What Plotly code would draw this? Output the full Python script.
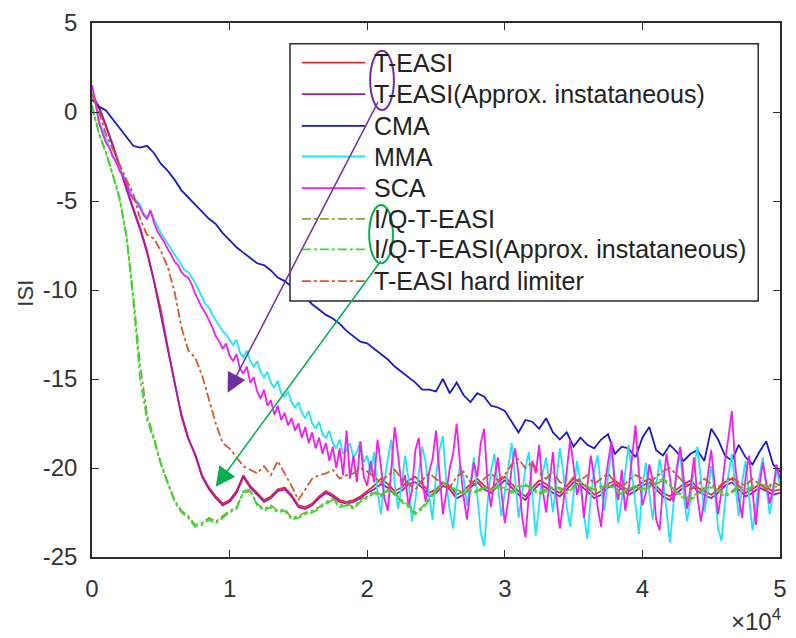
import plotly.graph_objects as go

# ---------------- data ----------------
# sample index (iterations)
x_coarse = list(range(0, 50001, 500))
x_fine = list(range(0, 50001, 250))

t_easi = [
    1.0, 0.2, -0.8, -1.8, -3.0, -4.3, -5.4, -6.5, -7.8, -9.4,
    -11.1, -13.2, -15.1, -17.1, -18.4, -19.2, -20.4, -21.1, -21.6, -22.0,
    -21.8, -21.3, -20.4, -21.0, -21.4, -21.8, -21.6, -21.2, -21.1, -21.5,
    -22.1, -22.2, -22.0, -21.6, -21.3, -21.5, -21.8, -21.9, -21.8, -21.6,
    -21.3,
    -21.0, -20.6, -20.9, -21.3, -21.1, -20.7, -20.5, -20.9, -21.4, -21.2,
    -20.8, -21.0, -21.5, -21.3, -20.9, -20.6, -21.0, -21.2, -20.8, -20.5,
    -20.9, -21.3, -21.6, -21.1, -20.7, -20.9, -21.2, -21.4, -21.0, -20.6,
    -20.8, -21.1, -21.5, -21.3, -20.9, -20.7, -21.0, -21.3, -21.1, -20.8,
    -20.6, -21.0, -21.4, -21.6, -21.2, -20.9, -20.7, -21.1, -21.3, -21.5,
    -21.2, -20.8, -20.6, -21.0, -21.4, -21.2, -20.9, -21.1, -21.3, -21.2,
]

t_easi_approx = [
    1.0, 0.3, -0.7, -1.9, -3.1, -4.4, -5.5, -6.6, -7.9, -9.5,
    -11.3, -13.3, -15.2, -17.0, -18.3, -19.3, -20.5, -21.2, -21.7, -22.1,
    -21.9, -21.4, -20.5, -21.1, -21.5, -21.9, -21.7, -21.3, -21.2, -21.6,
    -22.2, -22.3, -22.1, -21.7, -21.4, -21.6, -21.9, -22.0, -21.9, -21.7,
    -21.4,
    -21.2, -20.9, -21.1, -21.5, -21.3, -20.9, -20.8, -21.1, -21.6, -21.4,
    -21.0, -21.2, -21.7, -21.5, -21.1, -20.8, -21.2, -21.4, -21.0, -20.7,
    -21.1, -21.5, -21.8, -21.3, -20.9, -21.1, -21.4, -21.6, -21.2, -20.8,
    -21.0, -21.3, -21.7, -21.5, -21.1, -20.9, -21.2, -21.5, -21.3, -21.0,
    -20.8, -21.2, -21.6, -21.8, -21.4, -21.1, -20.9, -21.3, -21.5, -21.7,
    -21.4, -21.0, -20.8, -21.2, -21.6, -21.4, -21.1, -21.3, -21.5, -21.4,
]

cma = [
    0.7, 0.3, 0.1, -0.4, -0.9, -1.4, -1.9, -2.0, -1.9, -2.3,
    -2.9, -3.3, -3.8, -4.4, -4.8, -5.2, -5.6, -6.0, -6.3, -6.8,
    -7.2, -7.6, -7.9, -8.2, -8.5, -8.6, -8.9, -9.3, -9.5, -9.8,
    -10.0, -10.4, -10.8, -11.1, -11.4, -11.6, -11.9, -12.3, -12.6, -12.9,
    -13.0, -13.3, -13.6, -13.9, -14.3, -14.6, -14.9, -15.2, -15.6, -15.6,
    -15.7, -15.0, -15.8, -15.2, -15.9, -16.3, -15.8, -16.0, -16.5, -16.6,
    -16.8, -17.4, -18.0, -17.3, -17.4, -17.8, -17.2, -18.0, -18.4, -18.0,
    -18.8, -18.3, -18.7, -18.9, -18.4, -18.1, -19.2, -18.8, -18.9, -19.4,
    -18.3, -17.7, -19.0, -19.3, -18.7, -19.1, -19.6, -19.2, -19.0, -19.6,
    -17.8, -18.4, -19.3, -19.6, -18.7, -19.4, -19.8, -19.1, -18.5, -19.8,
    -20.2,
]

mma = [
    1.2, 0.5, -0.5, -1.0, -1.5, -2.0, -2.4, -2.8, -3.2, -3.5,
    -3.9, -4.4, -4.8, -5.0, -5.2, -5.7, -5.9, -5.6, -6.0, -6.4,
    -6.8, -7.1, -7.4, -7.7, -8.0, -8.3, -8.6, -8.9, -9.0, -9.3,
    -9.6, -10.0, -10.4, -10.8, -11.0, -11.4, -11.7, -12.0, -12.3, -12.5,
    -12.8, -13.1, -12.8, -13.5, -13.8, -13.4, -14.0, -14.3, -14.0, -14.6,
    -14.9, -14.6, -15.2, -15.5, -15.1, -15.8, -16.0, -15.7, -16.3, -16.6,
    -16.3, -16.9, -17.2, -16.8, -17.5, -17.8, -17.4, -18.1, -18.3, -17.9,
    -18.6, -18.9, -18.4, -19.2, -19.0, -18.6, -19.4, -19.1, -18.5, -19.7,
    -19.3,
    -20.3, -19.1, -21.4, -22.6, -20.7, -19.5, -18.4, -20.9, -22.3, -21.0,
    -19.3, -20.6, -23.0, -21.8, -20.2, -18.8, -19.7, -21.5, -22.9, -20.4,
    -19.0, -18.2, -20.8, -22.4, -23.4, -21.2, -19.8, -20.5, -22.1, -20.9,
    -19.4, -21.3, -23.6, -24.4, -21.9, -20.1, -19.2, -21.0, -22.7, -21.4,
    -19.9, -18.6, -20.6, -22.8, -21.5, -20.0, -19.1, -21.7, -23.8, -22.0,
    -20.3, -19.4, -21.1, -22.5, -20.7, -18.9, -20.2, -22.2, -23.3, -21.3,
    -19.6, -20.8, -22.6, -24.0, -21.6, -20.1, -19.3, -21.2, -22.4, -20.5,
    -19.0, -20.9, -23.1, -21.8, -20.3, -18.7, -20.4, -22.0, -23.7, -21.1,
    -19.7, -21.4, -22.9, -21.0, -19.5, -20.6, -22.3, -24.2, -22.1, -20.2,
    -19.1, -21.5, -23.0, -21.7, -20.0, -18.8, -20.7, -22.5, -21.3, -19.9,
    -21.2, -23.4, -24.1, -21.9, -20.4, -19.2, -21.0, -22.7, -20.8, -19.6,
    -21.6, -23.5, -22.2, -20.5, -19.4, -21.1, -22.6, -21.4, -20.1, -21.0,
]

sca = [
    1.5, 0.6, -0.6, -1.1, -1.7, -2.0, -2.5, -2.8, -3.3, -3.6,
    -4.0, -4.6, -4.9, -5.1, -5.4, -5.8, -6.0, -5.5, -6.2, -6.7,
    -7.0, -7.3, -7.7, -8.0, -8.4, -8.6, -9.0, -9.2, -9.3, -9.7,
    -10.2, -10.6, -11.0, -11.3, -11.7, -12.1, -12.6, -12.9, -13.3, -13.0,
    -13.7, -14.0, -13.6, -14.4, -14.7, -14.3, -15.2, -14.9, -15.7, -16.1,
    -15.6, -16.5, -16.2, -17.0, -16.5, -17.3, -16.9, -17.6, -17.2, -17.9,
    -17.5, -18.3, -17.7, -18.6, -18.0, -18.9, -18.3, -19.2, -18.6, -19.6,
    -18.8, -20.0, -18.9, -20.4, -17.9, -20.6, -19.3, -20.8, -18.5, -20.5,
    -21.0,
    -19.6, -20.8, -18.4, -19.9, -21.7, -22.4, -20.1, -17.7, -19.3, -21.0,
    -20.4, -22.1, -21.3, -19.0, -18.3, -20.7, -21.9, -20.2, -19.5, -17.9,
    -20.3, -22.6, -21.4, -20.0, -19.2, -17.5, -19.8, -21.6, -22.9, -21.1,
    -19.7, -20.5, -18.6, -17.8, -20.9, -22.2, -20.6, -19.4, -21.3, -23.1,
    -21.8, -20.0, -18.9, -20.4, -22.7, -23.9, -21.5, -19.6, -20.3, -18.7,
    -21.2, -22.5, -20.8, -19.1, -21.7, -23.4, -22.0, -20.2, -18.4, -19.9,
    -21.5, -20.7, -22.8, -21.0, -19.3, -20.6, -22.2, -23.3, -21.1, -19.7,
    -18.5, -20.9, -21.8, -20.1, -22.4, -21.2, -19.5, -17.6, -20.3, -22.1,
    -21.4, -19.8, -20.7, -22.9, -23.5, -21.0, -19.2, -20.5, -21.9, -20.0,
    -18.8, -20.6, -22.3, -21.1, -19.4, -21.6, -23.0, -21.8, -20.4, -19.0,
    -20.9, -22.6, -21.3, -19.6, -18.3, -16.8, -19.9, -21.7, -22.8, -20.5,
    -19.3, -21.4, -23.2, -21.0, -19.7, -20.8, -22.0, -21.2, -19.8, -20.6,
]

iq_t_easi = [
    0.4, -1.2, -2.2, -3.5, -4.8, -6.9, -10.3, -14.2, -17.0, -18.3,
    -19.7, -20.8, -21.8, -22.4, -22.7, -23.2, -23.1, -22.8, -23.0, -22.7,
    -22.4, -22.2, -21.4, -21.3, -22.0, -22.3, -22.1, -22.4, -22.3, -22.8,
    -22.7, -22.5, -22.4, -22.2, -21.9, -21.7, -22.1, -22.0, -22.2, -21.8,
    -21.6,
    -21.3, -21.5, -21.3, -21.4, -21.8, -22.1, -22.5, -22.2, -21.7, -21.2,
    -20.8, -21.1, -21.2, -21.4, -21.3, -21.3, -21.0, -21.2, -21.1, -21.1,
    -21.3, -21.0, -21.0, -21.1, -21.4, -21.2, -21.1, -21.1, -21.3, -21.0,
    -20.9, -21.1, -21.2, -21.0, -21.0, -21.1, -21.4, -21.1, -21.1, -21.2,
    -21.0, -20.9, -20.7, -21.0, -21.3, -21.6, -21.7, -21.4, -21.1, -21.1,
    -21.2, -21.5, -21.3, -21.0, -21.2, -21.1, -20.9, -21.0, -21.1, -21.0,
]

iq_t_easi_approx = [
    0.3, -1.2, -2.3, -3.5, -4.9, -7.0, -10.6, -15.0, -17.3, -18.4,
    -19.8, -20.9, -21.9, -22.5, -22.8, -23.3, -23.2, -22.9, -23.1, -22.8,
    -22.5, -22.3, -21.3, -21.2, -22.1, -22.4, -22.2, -22.5, -22.4, -22.9,
    -22.8, -22.6, -22.5, -22.3, -22.0, -21.8, -22.2, -22.1, -22.3, -21.9,
    -21.7,
    -21.4, -21.6, -21.2, -21.5, -21.9, -22.2, -22.6, -22.3, -21.8, -21.3,
    -20.9, -21.0, -21.3, -21.5, -21.2, -21.4, -21.1, -21.3, -21.0, -21.2,
    -21.4, -21.1, -20.9, -21.2, -21.5, -21.3, -21.0, -21.2, -21.4, -21.1,
    -20.8, -21.0, -21.3, -21.1, -20.9, -21.2, -21.5, -21.2, -21.0, -21.3,
    -21.1, -20.8, -20.6, -20.9, -21.4, -21.7, -21.8, -21.5, -21.2, -21.0,
    -21.3, -21.6, -21.4, -21.1, -21.3, -21.0, -20.8, -21.1, -21.0, -20.9,
]

hard_limiter = [
    1.0, 0.0, -1.2, -2.1, -2.9, -3.8, -4.6, -6.0, -6.9, -7.1,
    -7.8, -8.7, -10.1, -12.1, -13.4, -13.8, -14.8, -16.2, -17.5, -18.6,
    -18.9, -19.4, -19.9, -20.1, -20.3, -19.9, -20.4, -19.6, -20.3, -21.0,
    -21.8, -21.2, -20.6, -20.4, -20.3, -20.1, -20.6, -20.4, -20.3, -20.0,
    -20.2,
    -20.5, -20.8, -20.4, -20.1, -20.6, -20.9, -21.2, -20.7, -20.3, -20.6,
    -20.9, -21.1, -20.5, -20.2, -20.8, -21.0, -20.6, -20.3, -20.7, -20.4,
    -19.8, -19.5, -20.0, -19.7, -20.3, -20.6, -20.2, -20.8, -21.0, -20.5,
    -20.7, -20.4, -20.9, -20.6, -20.3, -20.8, -21.1, -20.7, -20.4, -20.6,
    -20.9, -20.5, -20.2, -20.0, -20.4, -20.8, -21.2, -21.0, -20.6, -20.9,
    -21.1, -20.7, -20.5, -20.8, -21.0, -20.6, -20.9, -21.2, -20.8, -21.0,
]

x_ticks = [0, 10000, 20000, 30000, 40000, 50000]
x_tick_text = ["0", "1", "2", "3", "4", "5"]
y_ticks = [5, 0, -5, -10, -15, -20, -25]
y_tick_text = ["5", "0", "-5", "-10", "-15", "-20", "-25"]

# name, values, x grid, colour, dash
series = [
    ("T-EASI", t_easi, x_coarse, "#ee2a2a", "solid"),
    ("T-EASI(Approx. instataneous)", t_easi_approx, x_coarse, "#a01cb0", "solid"),
    ("CMA", cma, x_coarse, "#1a1acd", "solid"),
    ("MMA", mma, x_fine, "#1ee6f5", "solid"),
    ("SCA", sca, x_fine, "#f51cf0", "solid"),
    ("I/Q-T-EASI", iq_t_easi, x_coarse, "#8aa83a", "dashdot"),
    ("I/Q-T-EASI(Approx. instataneous)", iq_t_easi_approx, x_coarse, "#2ee02e", "dashdot"),
    ("T-EASI hard limiter", hard_limiter, x_coarse, "#d9582a", "dashdot"),
]

for name, ys, xs, _, _ in series:
    assert len(ys) == len(xs), (name, len(ys), len(xs))

# ---------------- layout geometry (pixels) ----------------
W, H = 796, 638
L, R, T, B = 92, 787, 17, 557
FONT = "Liberation Sans, Arial, sans-serif"
AXIS_COLOR = "#2b2b2b"


def px(xp):
    return (xp - L) / (R - L)


def py(yp):
    return (B - yp) / (B - T)


fig = go.Figure()
for name, ys, xs, color, dash in series:
    fig.add_trace(go.Scatter(
        x=xs, y=ys, mode="lines", name=name, showlegend=False,
        line=dict(color=color, width=1.8, dash=dash),
    ))

shapes = []
annotations = []

# legend box
shapes.append(dict(type="rect", xref="paper", yref="paper",
                   x0=px(292), x1=px(765), y0=py(298), y1=py(38),
                   line=dict(color=AXIS_COLOR, width=1.5), fillcolor="white",
                   layer="above"))
row_y = [57, 89, 121, 152, 184, 215, 246, 278]
for (name, _, _, color, dash), ry in zip(series, row_y):
    shapes.append(dict(type="line", xref="paper", yref="paper",
                       x0=px(304), x1=px(368), y0=py(ry), y1=py(ry),
                       line=dict(color=color, width=1.8, dash=dash),
                       layer="above"))
    annotations.append(dict(text=name, xref="paper", yref="paper",
                            x=px(375), y=py(ry), xanchor="left", yanchor="middle",
                            showarrow=False,
                            font=dict(family=FONT, size=25, color="#222222")))

# highlight ellipses around the legend entries
PURPLE = "#7030a0"
GREEN = "#00b050"
shapes.append(dict(type="circle", xref="paper", yref="paper",
                   x0=px(373), x1=px(397), y0=py(105), y1=py(45),
                   line=dict(color=PURPLE, width=2), layer="above"))
shapes.append(dict(type="circle", xref="paper", yref="paper",
                   x0=px(372), x1=px(396), y0=py(260), y1=py(201),
                   line=dict(color=GREEN, width=2), layer="above"))

# arrows from ellipses to the curves
annotations.append(dict(text="", xref="paper", yref="paper",
                        x=px(229), y=py(391), ax=380 - 229, ay=99 - 391,
                        showarrow=True, arrowhead=2, arrowsize=2.6,
                        arrowwidth=1.5, arrowcolor=PURPLE))
annotations.append(dict(text="", xref="paper", yref="paper",
                        x=px(217), y=py(486), ax=383 - 217, ay=259 - 486,
                        showarrow=True, arrowhead=2, arrowsize=2.6,
                        arrowwidth=1.5, arrowcolor=GREEN))

# exponent label for the x axis
annotations.append(dict(text="\u00d710<sup>4</sup>", xref="paper", yref="paper",
                        x=1.005, y=py(621), xanchor="right", yanchor="middle",
                        showarrow=False,
                        font=dict(family=FONT, size=24, color="#333333")))

# y-axis title
annotations.append(dict(text="ISI", xref="paper", yref="paper",
                        x=px(25), y=py(290), xanchor="center", yanchor="middle",
                        textangle=-90, showarrow=False,
                        font=dict(family=FONT, size=22, color="#333333")))

axis_common = dict(
    showgrid=False, zeroline=False, showline=True, linecolor=AXIS_COLOR,
    linewidth=1.5, mirror="ticks", ticks="inside", ticklen=7,
    tickcolor=AXIS_COLOR, tickwidth=1.3,
    tickfont=dict(family=FONT, size=24, color="#333333"),
)

fig.update_layout(
    width=W, height=H,
    margin=dict(l=L, r=W - R, t=T, b=H - B),
    paper_bgcolor="white", plot_bgcolor="white",
    showlegend=False,
    xaxis=dict(range=[0, 50000], tickvals=x_ticks, ticktext=x_tick_text,
               ticklabelstandoff=9, **axis_common),
    yaxis=dict(range=[-25, 5], tickvals=y_ticks, ticktext=y_tick_text,
               ticklabelstandoff=8, **axis_common),
    shapes=shapes,
    annotations=annotations,
)

fig.write_html("out.html")
